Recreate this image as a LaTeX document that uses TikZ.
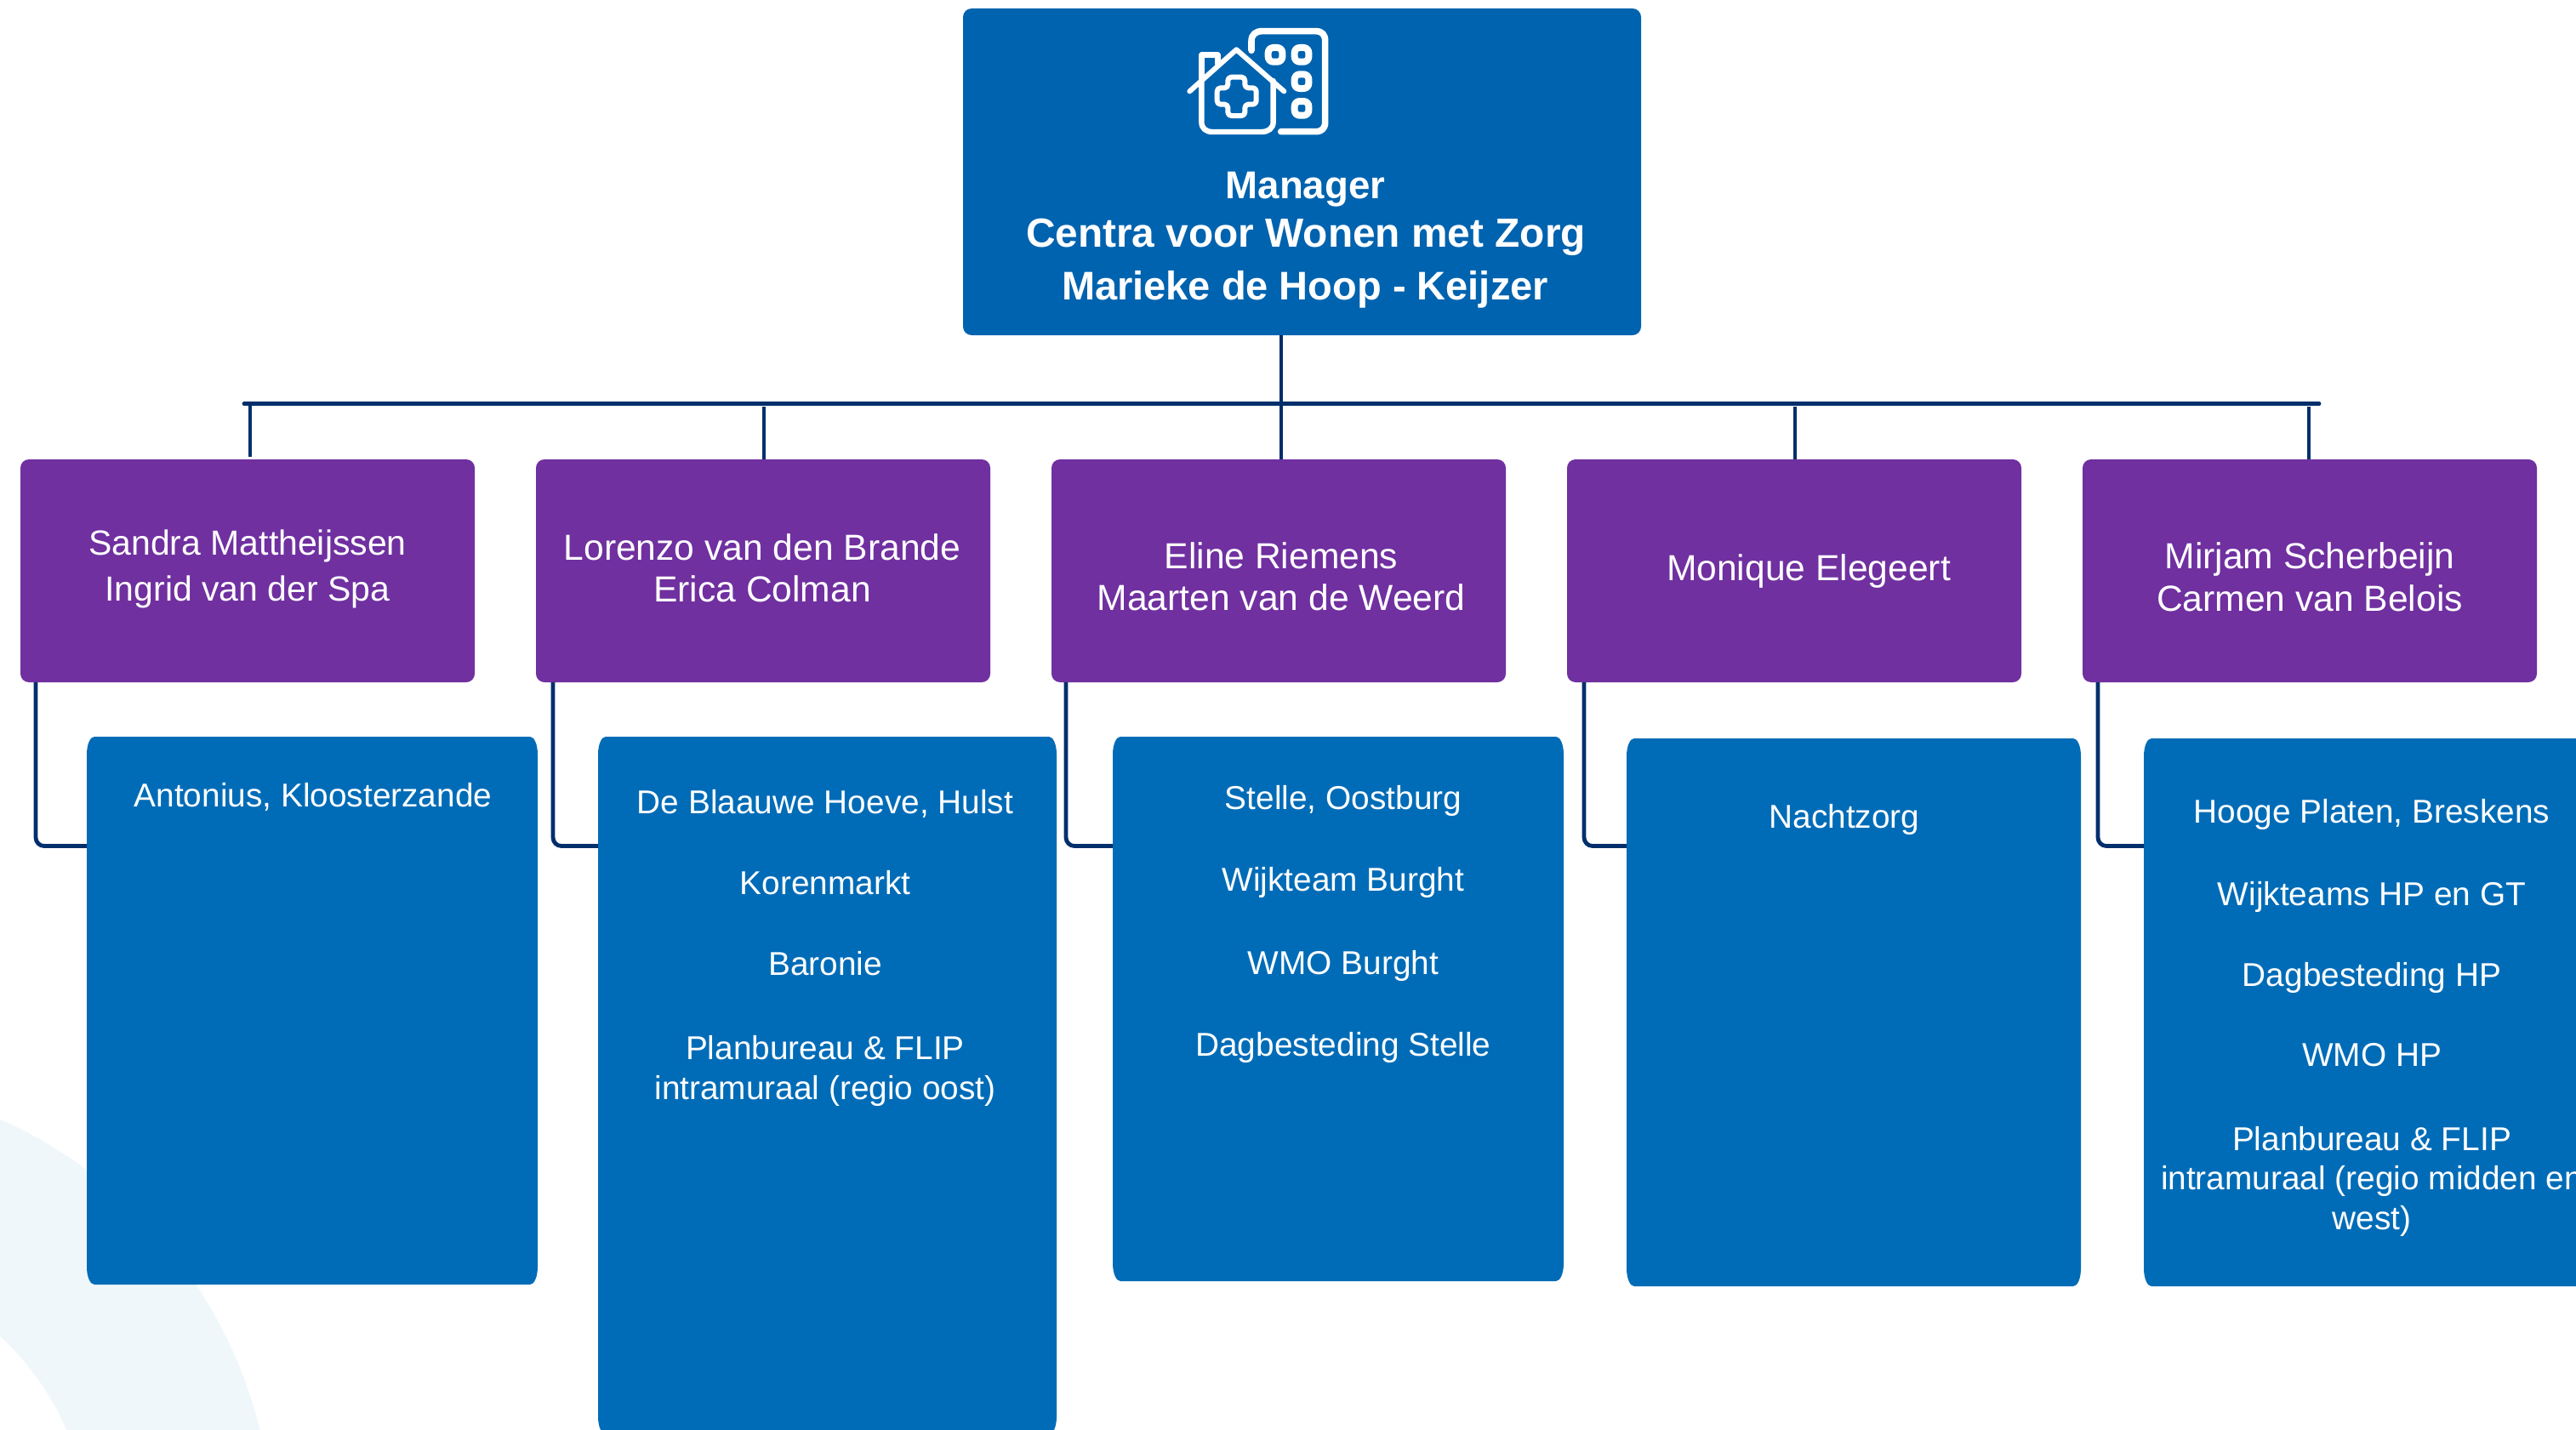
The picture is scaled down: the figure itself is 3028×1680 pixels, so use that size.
\documentclass[tikz,border=0pt]{standalone}
\usepackage{fontspec}
\setmainfont{Liberation Sans}
\definecolor{topblue}{HTML}{0063AF}
\definecolor{subblue}{HTML}{006CB7}
\definecolor{purplebox}{HTML}{7030A0}
\definecolor{linenavy}{HTML}{002F6C}
\definecolor{ringtint}{HTML}{F0F7FA}
\tikzset{
  orgbox/.style={inner sep=0pt,outer sep=0pt,rounded corners=5pt},
  topbox/.style={orgbox,fill=topblue},
  namebox/.style={orgbox,fill=purplebox},
  teambox/.style={inner sep=0pt,outer sep=0pt},
  conn/.style={draw=linenavy,line width=2.4pt},
  toptext/.style={anchor=base,text=white,inner sep=0pt,font=\fontsize{23.9pt}{28pt}\selectfont\bfseries},
  toptextb/.style={toptext,font=\fontsize{23.5pt}{28pt}\selectfont\bfseries},
  toptextc/.style={toptext,font=\fontsize{22.8pt}{28pt}\selectfont\bfseries},
  nametext/.style={anchor=base,text=white,inner sep=0pt,font=\fontsize{21.3pt}{26pt}\selectfont},
  nametextsmall/.style={nametext,font=\fontsize{20.5pt}{26pt}\selectfont},
  teamtext/.style={anchor=base,text=white,inner sep=0pt,font=\fontsize{19.4pt}{24pt}\selectfont},
  icon/.style={draw=white,line width=3.2pt,line cap=round,line join=round},
}
\newcommand{\orgnode}[6]{\node[#2,minimum width={(#5-#3)*0.5pt},minimum height={(#6-#4)*0.5pt}] (#1) at ({(#3+#5)/2},{(#4+#6)/2}) {};}
% team box: a named node plus its fill with elliptical corners (arguments: name, x0, y0, x1, y1)
\newcommand{\teamnode}[5]{%
  \fill[subblue] ({#2+9},#3) -- ({#4-9},#3) .. controls ({#4-4},#3) and (#4,{#3+9}) .. (#4,{#3+21})
    -- (#4,{#5-21}) .. controls (#4,{#5-9}) and ({#4-4},#5) .. ({#4-9},#5)
    -- ({#2+9},#5) .. controls ({#2+4},#5) and (#2,{#5-9}) .. (#2,{#5-21})
    -- (#2,{#3+21}) .. controls (#2,{#3+9}) and ({#2+4},#3) .. ({#2+9},#3) -- cycle;
  \orgnode{#1}{teambox}{#2}{#3}{#4}{#5}}
\newcommand{\lbl}[5]{\node[#2] (#1) at (#3,#4) {#5};}
\begin{document}
\begin{tikzpicture}[x=0.5pt,y=-0.5pt]
\useasboundingbox (0,0) rectangle (3028,1680);
\clip (0,0) rectangle (3028,1680);
\fill[white] (0,0) rectangle (3028,1680);
% background ring
\fill[ringtint,even odd rule] (-220,1810) circle [radius=541] (-220,1810) circle [radius=325];
% boxes
\orgnode{top}{topbox}{1132}{10}{1929}{394}
\orgnode{p1}{namebox}{24}{540}{558}{802}
\orgnode{p2}{namebox}{630}{540}{1164}{802}
\orgnode{p3}{namebox}{1236}{540}{1770}{802}
\orgnode{p4}{namebox}{1842}{540}{2376}{802}
\orgnode{p5}{namebox}{2448}{540}{2982}{802}
% connectors
\coordinate (busl) at (287,474.5);
\coordinate (busr) at (2726,474.5);
\draw[conn,line cap=round] (busl) -- (busr);
\draw[conn] ([xshift=1.5pt]top.south -| p3.north) -- ([xshift=1.5pt]p3.north);
\draw[conn,line width=2.3pt] ([xshift=1.5pt,yshift=1.5pt]p1.north) -- ([xshift=1.5pt]p1.north |- busl);
\draw[conn,line width=2.3pt] ([xshift=0.5pt]p2.north) -- ([xshift=0.5pt,yshift=-1.75pt]p2.north |- busl);
\draw[conn,line width=2.3pt] ([xshift=0.5pt]p4.north) -- ([xshift=0.5pt,yshift=-1.75pt]p4.north |- busl);
\draw[conn,line width=2.3pt] ([xshift=-0.5pt]p5.north) -- ([xshift=-0.5pt,yshift=-1.75pt]p5.north |- busl);
\teamnode{b1}{102}{866}{632}{1510}
\teamnode{b2}{703}{866}{1242}{1686}
\teamnode{b3}{1308}{866}{1838}{1506}
\teamnode{b4}{1912}{868}{2446}{1512}
\teamnode{b5}{2520}{868}{3054}{1512}
\coordinate (e1) at (42,994.5); \coordinate (e2) at (650,994.5); \coordinate (e3) at (1253,994.5);
\coordinate (e4) at (1862,994.5); \coordinate (e5) at (2466,994.5);
\draw[conn,rounded corners=5pt] (e1 |- p1.south) -- (e1) -- (e1 -| b1.west);
\draw[conn,rounded corners=5pt] (e2 |- p2.south) -- (e2) -- (e2 -| b2.west);
\draw[conn,rounded corners=5pt] (e3 |- p3.south) -- (e3) -- (e3 -| b3.west);
\draw[conn,rounded corners=5pt] (e4 |- p4.south) -- (e4) -- (e4 -| b4.west);
\draw[conn,rounded corners=5pt] (e5 |- p5.south) -- (e5) -- (e5 -| b5.west);
% icon
\begin{scope}[shift={(1340,0)},x=0.16667pt,y=-0.16667pt]
\draw[icon,line width=3pt] (175,322) -- (340,175) -- (508,322);
\draw[icon] (217,194) -- (274,194) -- (274,225);
\draw[icon] (217,285) -- (217,194);
\draw[icon] (217,285) -- (217,430) .. controls (217,452) and (232,465) .. (255,465) -- (430,465) .. controls (452,465) and (470,452) .. (470,430) -- (470,285);
\draw[icon,line width=3pt,rounded corners=2pt] (310,272) -- (370,272) -- (370,310) -- (410,310) -- (410,368) -- (370,368) -- (370,408) -- (310,408) -- (310,368) -- (272,368) -- (272,310) -- (310,310) -- cycle;
\draw[icon,line width=3.8pt] (393,178) -- (393,145) .. controls (393,122) and (408,110) .. (430,110) -- (620,110) .. controls (642,110) and (653,122) .. (653,145) -- (653,430) .. controls (653,452) and (642,464) .. (620,464) -- (497,464);
\foreach \cx/\cy in {477/193,570/193,570/287,570/382}
  \draw[icon,line width=4pt,rounded corners=3pt] (\cx-25,\cy-25) rectangle (\cx+25,\cy+25);
\end{scope}
% top text
\lbl{t1}{toptextc}{1534.5}{234}{Manager}
\lbl{t2}{toptext}{1535}{290}{Centra voor Wonen met Zorg}
\lbl{t3}{toptextb}{1534}{352}{Marieke de Hoop - Keijzer}
% names
\lbl{n1a}{nametextsmall}{291}{652}{Sandra Mattheijssen}
\lbl{n1b}{nametextsmall}{291}{706}{Ingrid van der Spa}
\lbl{n2a}{nametext}{896}{658}{Lorenzo van den Brande}
\lbl{n2b}{nametext}{896}{707}{Erica Colman}
\lbl{n3a}{nametext}{1506}{668}{Eline Riemens}
\lbl{n3b}{nametext}{1506}{717}{Maarten van de Weerd}
\lbl{n4a}{nametext}{2126}{682}{Monique Elegeert}
\lbl{n5a}{nametext}{2715}{668}{Mirjam Scherbeijn}
\lbl{n5b}{nametext}{2715}{718}{Carmen van Belois}
% teams
\lbl{x1a}{teamtext}{368}{948}{Antonius, Kloosterzande}
\lbl{x2a}{teamtext}{970}{956}{De Blaauwe Hoeve, Hulst}
\lbl{x2b}{teamtext}{970}{1051}{Korenmarkt}
\lbl{x2c}{teamtext}{970}{1146}{Baronie}
\lbl{x2d}{teamtext}{970}{1245}{Planbureau \& FLIP}
\lbl{x2e}{teamtext}{970}{1292}{intramuraal (regio oost)}
\lbl{x3a}{teamtext}{1579}{951}{Stelle, Oostburg}
\lbl{x3b}{teamtext}{1579}{1047}{Wijkteam Burght}
\lbl{x3c}{teamtext}{1579}{1145}{WMO Burght}
\lbl{x3d}{teamtext}{1579}{1241}{Dagbesteding Stelle}
\lbl{x4a}{teamtext}{2168}{973}{Nachtzorg}
\lbl{x5a}{teamtext}{2788}{967}{Hooge Platen, Breskens}
\lbl{x5b}{teamtext}{2788}{1064}{Wijkteams HP en GT}
\lbl{x5c}{teamtext}{2788}{1159}{Dagbesteding HP}
\lbl{x5d}{teamtext}{2788}{1253}{WMO HP}
\lbl{x5e}{teamtext}{2788}{1352}{Planbureau \& FLIP}
\lbl{x5f}{teamtext}{2788}{1398}{intramuraal (regio midden en}
\lbl{x5g}{teamtext}{2788}{1445}{west)}
\end{tikzpicture}
\end{document}
